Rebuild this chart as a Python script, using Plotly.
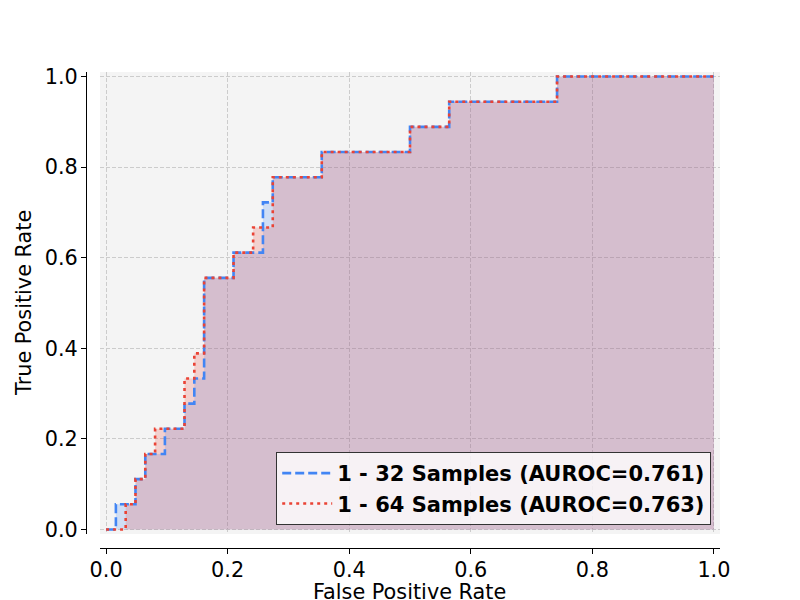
import plotly.graph_objects as go

# ROC curves: 62 negatives, 18 positives
N_NEG = 62
N_POS = 18

fp_32 = [0, 1, 3, 4, 6, 8, 9, 10, 13, 16, 17, 22, 31, 35, 46, 62]
tp_32 = [0, 1, 2, 3, 4, 5, 6, 10, 11, 13, 14, 15, 16, 17, 18, 18]

fp_64 = [0, 2, 3, 4, 5, 8, 9, 10, 13, 15, 17, 22, 31, 35, 46, 62]
tp_64 = [0, 1, 2, 3, 4, 6, 7, 10, 11, 12, 14, 15, 16, 17, 18, 18]

names = ["1 - 32 Samples (AUROC=0.761)", "1 - 64 Samples (AUROC=0.763)"]
tick_vals = [0.0, 0.2, 0.4, 0.6, 0.8, 1.0]

BLUE = "#4285F4"
RED = "#EA4335"

fpr_32 = [v / N_NEG for v in fp_32]
tpr_32 = [v / N_POS for v in tp_32]
fpr_64 = [v / N_NEG for v in fp_64]
tpr_64 = [v / N_POS for v in tp_64]

fig = go.Figure()

# Fills first, so both lines sit on top
for fx, fy, fcol in [
    (fpr_32, tpr_32, "rgba(66,133,244,0.2)"),
    (fpr_64, tpr_64, "rgba(234,67,53,0.2)"),
]:
    fig.add_trace(
        go.Scatter(
            x=fx,
            y=fy,
            mode="lines",
            line=dict(shape="hv", width=0),
            fill="tozeroy",
            fillcolor=fcol,
            showlegend=False,
            hoverinfo="skip",
        )
    )

fig.add_trace(
    go.Scatter(
        x=fpr_32,
        y=tpr_32,
        name=names[0],
        mode="lines",
        line=dict(shape="hv", color=BLUE, width=2.6, dash="9px,4px"),
    )
)
fig.add_trace(
    go.Scatter(
        x=fpr_64,
        y=tpr_64,
        name=names[1],
        mode="lines",
        line=dict(shape="hv", color=RED, width=2.6, dash="3px,4px"),
    )
)

axis_common = dict(
    tickvals=tick_vals,
    tickformat=".1f",
    ticks="outside",
    ticklen=5,
    tickwidth=1,
    tickcolor="black",
    showline=True,
    linecolor="black",
    linewidth=1,
    showgrid=True,
    gridcolor="#cccccc",
    gridwidth=1,
    griddash="4px,2px",
    zeroline=False,
    automargin=False,
    tickfont=dict(size=20.8, color="black"),
)

fig.update_layout(
    width=800,
    height=600,
    template="none",
    margin=dict(l=0, r=0, t=0, b=0),
    font=dict(family="DejaVu Sans", color="black"),
    paper_bgcolor="white",
    plot_bgcolor="#f4f4f4",
    xaxis=dict(
        domain=[0.125, 0.9],
        range=[-0.01, 1.01],
        anchor="free",
        position=0.0867,
        ticklabelstandoff=-2,
        **axis_common,
    ),
    yaxis=dict(
        domain=[0.11, 0.88],
        range=[-0.01, 1.01],
        anchor="free",
        position=0.1075,
        ticklabelstandoff=-1,
        **axis_common,
    ),
    legend=dict(
        x=0.889,
        y=0.125,
        xanchor="right",
        yanchor="bottom",
        itemwidth=50,
        bgcolor="rgba(255,255,255,0.8)",
        bordercolor="#333333",
        borderwidth=1,
        font=dict(size=21, weight="bold", color="black"),
    ),
    annotations=[
        dict(
            text="False Positive Rate",
            xref="paper",
            yref="paper",
            x=0.5125,
            y=-0.01,
            xanchor="center",
            yanchor="bottom",
            showarrow=False,
            font=dict(size=20.8),
        ),
        dict(
            text="True Positive Rate",
            xref="paper",
            yref="paper",
            x=0.0125,
            y=0.495,
            xanchor="left",
            yanchor="middle",
            textangle=-90,
            showarrow=False,
            font=dict(size=20.8),
        ),
    ],
)

fig.write_html(
    "out.html",
    config={"displayModeBar": False},
    post_script="document.body.style.margin='0';",
)
